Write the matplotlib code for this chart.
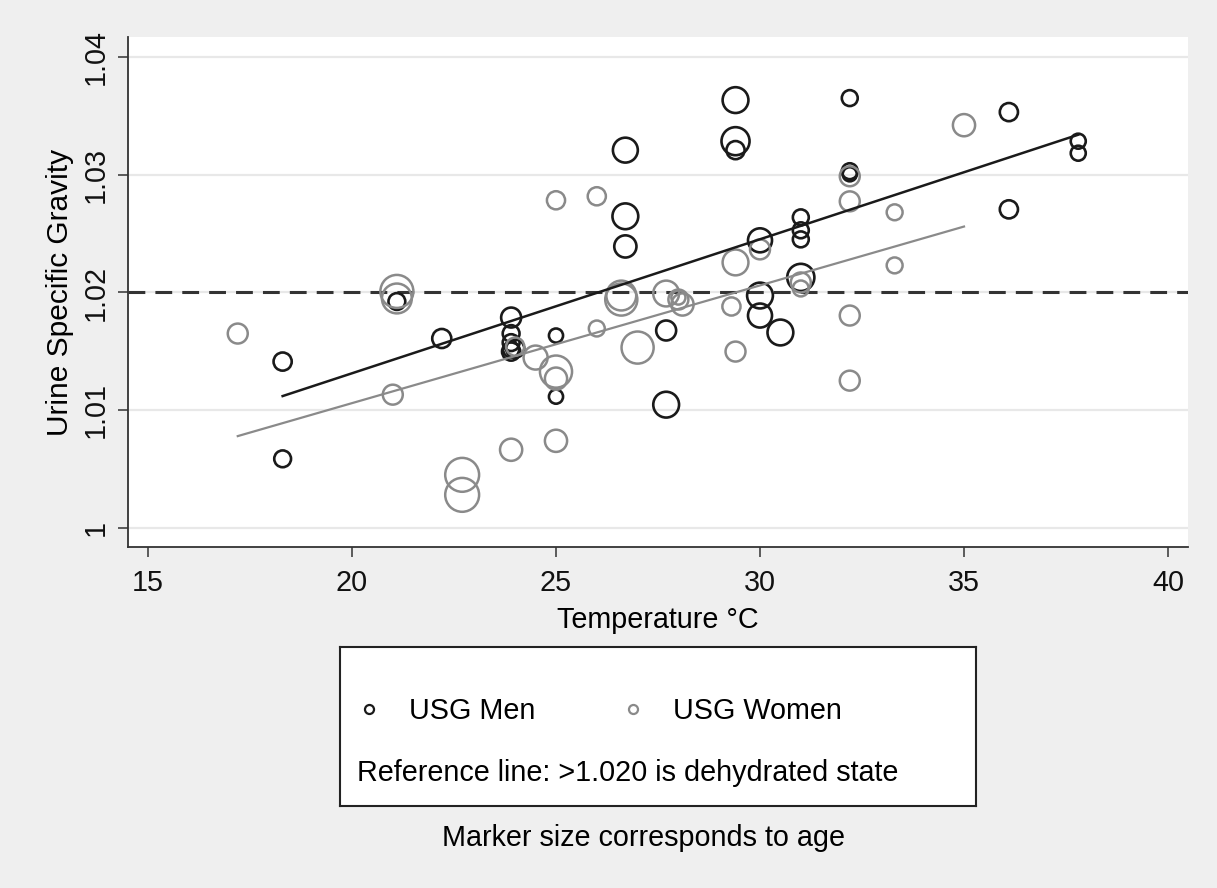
import numpy as np
import matplotlib
matplotlib.use("Agg")
import matplotlib.pyplot as plt
from matplotlib.lines import Line2D

plt.rcParams["font.family"] = ["Liberation Sans", "DejaVu Sans"]

# men: temperature (C), urine specific gravity, age
men_temp = [18.3, 18.3, 21.1, 22.2, 23.9, 23.9, 23.9, 23.9, 23.9, 24.0,
            25.0, 25.0, 26.7, 26.7, 26.7, 27.7, 27.7, 29.4, 29.4, 29.4,
            30.0, 30.0, 30.0, 30.5, 31.0, 31.0, 31.0, 31.0, 32.2, 32.2,
            32.2, 36.1, 36.1, 37.8, 37.8]
men_usg = [1.01413, 1.00587, 1.01923, 1.01609, 1.01787, 1.01651, 1.01574, 1.01515, 1.01498, 1.01523,
           1.01634, 1.01115, 1.03209, 1.02647, 1.02391, 1.01677, 1.01047, 1.03634, 1.03285, 1.03209,
           1.02443, 1.01974, 1.01804, 1.01660, 1.02638, 1.02528, 1.02451, 1.02128, 1.03651, 1.03030,
           1.03004, 1.03532, 1.02706, 1.03285, 1.03183]
men_age = [27, 24, 24, 29, 31, 24, 24, 22, 27, 27,
           18, 18, 42, 44, 36, 31, 44, 44, 49, 27,
           40, 44, 40, 44, 22, 22, 22, 47, 22, 22,
           18, 27, 27, 20, 20]

# women
women_temp = [17.2, 21.1, 21.1, 21.0, 22.7, 22.7, 23.9, 24.0, 24.5, 25.0,
              25.0, 25.0, 25.0, 26.0, 26.0, 26.6, 26.6, 27.0, 27.7, 28.0,
              28.0, 28.1, 29.4, 29.3, 29.4, 30.0, 31.0, 31.0, 32.2, 32.2,
              32.2, 32.2, 33.3, 33.3, 35.0]
women_usg = [1.01651, 1.02009, 1.01949, 1.01132, 1.00451, 1.00281, 1.00664, 1.01540, 1.01447, 1.01328,
             1.01268, 1.00740, 1.02783, 1.02817, 1.01694, 1.01974, 1.01940, 1.01532, 1.01991, 1.01957,
             1.01940, 1.01898, 1.02255, 1.01881, 1.01498, 1.02366, 1.02085, 1.02034, 1.02987, 1.02774,
             1.01804, 1.01251, 1.02681, 1.02230, 1.03421]
women_age = [31, 60, 53, 31, 62, 62, 36, 27, 40, 58,
             36, 36, 27, 27, 22, 53, 58, 58, 44, 18,
             31, 36, 44, 27, 31, 31, 31, 22, 31, 31,
             31, 31, 22, 22, 36]

# linear fits (endpoints)
men_fit_x = [18.3, 37.8]
men_fit_y = [1.0112, 1.0334]
women_fit_x = [17.2, 35.0]
women_fit_y = [1.0078, 1.0256]

ref_usg = 1.020
xticks = [15, 20, 25, 30, 35, 40]
yticks = [1.00, 1.01, 1.02, 1.03, 1.04]
ytick_labels = ["1", "1.01", "1.02", "1.03", "1.04"]

BG = "#efefef"
MEN_C = "#1a1a1a"
WOMEN_C = "#8a8a8a"
FS = 20.7


def marker_area(age):
    d_px = 6 + 0.45 * np.asarray(age, dtype=float)
    return (d_px * 0.72) ** 2


fig = plt.figure(figsize=(12.17, 8.88), dpi=100, facecolor=BG)
ax = fig.add_axes([128 / 1217, 1 - 547 / 888, 1060 / 1217, 510 / 888])
ax.set_facecolor("white")

ax.scatter(men_temp, men_usg, s=marker_area(men_age), facecolors="none",
           edgecolors=MEN_C, linewidths=1.9, zorder=3)
ax.scatter(women_temp, women_usg, s=marker_area(women_age), facecolors="none",
           edgecolors=WOMEN_C, linewidths=1.8, zorder=3)
ax.plot(men_fit_x, men_fit_y, color=MEN_C, lw=1.8, zorder=4)
ax.plot(women_fit_x, women_fit_y, color=WOMEN_C, lw=1.6, zorder=4)
ax.axhline(ref_usg, color="#333333", lw=2.2, ls=(0, (5.5, 3.3)), zorder=2)

ax.set_xlim(14.51, 40.49)
ax.set_ylim(0.99838, 1.0417)
ax.set_xticks(xticks)
ax.set_yticks(yticks)
ax.set_yticklabels(ytick_labels, rotation=90, va="center")
for y in yticks:
    ax.axhline(y, color="#e8e8e8", lw=1.6, zorder=1)

for side in ("top", "right"):
    ax.spines[side].set_visible(False)
for side in ("left", "bottom"):
    ax.spines[side].set_color("#333333")
    ax.spines[side].set_linewidth(1.3)
ax.tick_params(axis="both", direction="out", length=7, width=1.1,
               color="#333333", labelsize=FS, labelcolor="#111111", pad=6)
ax.tick_params(axis="x", pad=9)
ax.set_xlabel("Temperature °C", fontsize=FS, labelpad=6)
ax.set_ylabel("Urine Specific Gravity", fontsize=21.5, labelpad=6)

# legend box
lax = fig.add_axes([340 / 1217, 1 - 806 / 888, 636 / 1217, 159 / 888])
lax.set_xticks([])
lax.set_yticks([])
lax.set_facecolor("white")
for sp in lax.spines.values():
    sp.set_color("#222222")
    sp.set_linewidth(1.5)
handles = [Line2D([], [], ls="none", marker="o", ms=6.5, mfc="none", mec=MEN_C, mew=1.6),
           Line2D([], [], ls="none", marker="o", ms=6.5, mfc="none", mec=WOMEN_C, mew=1.6)]
lax.legend(handles, ["USG Men", "USG Women"], ncol=2, frameon=False,
           fontsize=FS, loc="center left", bbox_to_anchor=(0.0, 0.60),
           handlelength=1.2, handletextpad=0.8, columnspacing=2.8, borderaxespad=0.0)
lax.text(0.026, 0.21, "Reference line: >1.020 is dehydrated state", transform=lax.transAxes,
         fontsize=FS, va="center", ha="left")

fig.text(644 / 1217, 1 - 838 / 888, "Marker size corresponds to age",
         fontsize=FS, ha="center", va="center")

fig.savefig("out.png", dpi=100, facecolor=BG)
